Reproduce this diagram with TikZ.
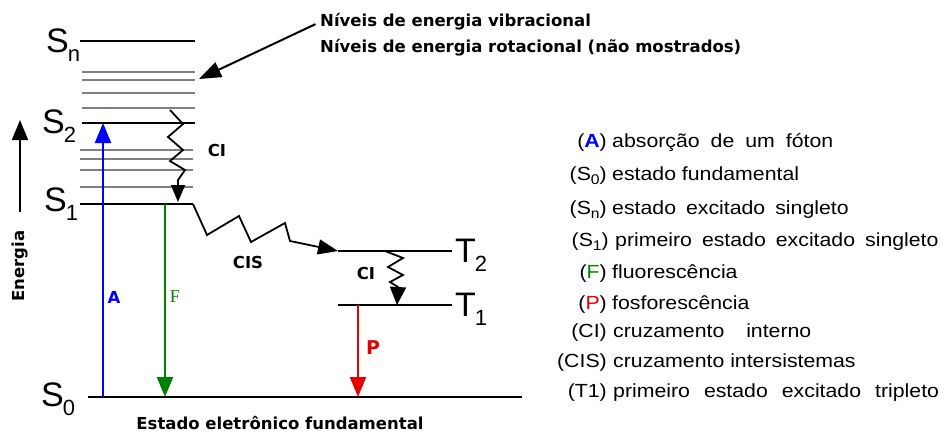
\documentclass[tikz,border=0pt]{standalone}
\usepackage{fontspec}
\setmainfont{Liberation Sans}
\newfontfamily\boldfont{DejaVu Sans}
\newfontfamily\legendfont{Liberation Sans}[FakeStretch=1.12]
\newfontfamily\seriffont{Liberation Serif}
\usepackage{tikz}
\usetikzlibrary{arrows.meta}
\definecolor{levelgray}{RGB}{128,128,128}
\definecolor{absblue}{RGB}{0,0,255}
\definecolor{fluogreen}{RGB}{0,128,0}
\definecolor{phosred}{RGB}{230,0,0}

\newcommand{\statename}[2]{#1\kern-1pt\raisebox{-9pt}{\fontsize{22}{22}\selectfont #2}}
\newcommand{\legsub}[1]{\raisebox{-4pt}{\fontsize{14}{14}\selectfont #1}}

\begin{document}
\begin{tikzpicture}[x=1pt, y=-1pt, >={Triangle[length=20pt,width=16pt]},
    level/.style={line width=2.5pt},
    sublevel/.style={levelgray, line width=2.5pt},
    statelabel/.style={anchor=base west, inner sep=0pt, font=\fontsize{34}{34}\selectfont},
    boldlabel/.style={inner sep=0pt, font=\boldfont\bfseries\fontsize{16.5}{18}\selectfont},
    transition/.style={->, line width=2.3pt},
    relax/.style={-{Triangle[length=17pt,width=14pt]}, line width=1.8pt},
    legkey/.style={anchor=base east, inner sep=0pt, font=\legendfont\fontsize{19}{19}\selectfont},
    legtext/.style={anchor=base west, inner sep=0pt, font=\legendfont\fontsize{19}{19}\selectfont}]
    \useasboundingbox (0,0) rectangle (946,432);

    % Energy axis
    \coordinate (en0) at (20,212);
    \coordinate (en1) at (20,120);
    \draw[->, line width=1.8pt] (en0) -- (en1);
    \node[boldlabel, rotate=90] (energia) at (20,266) {Energia};

    % Singlet levels
    \coordinate (sn-l) at (80,41);  \coordinate (sn-r) at (195,41);
    \coordinate (s2-l) at (82,123); \coordinate (s2-r) at (195,123);
    \coordinate (s1-l) at (80,204); \coordinate (s1-r) at (193,204);
    \coordinate (s0-l) at (88,397); \coordinate (s0-r) at (522,397);
    \draw[level] (sn-l) -- (sn-r);
    \draw[level] (s2-l) -- (s2-r);
    \draw[level] (s1-l) -- (s1-r);
    \draw[level] (s0-l) -- (s0-r);
    \foreach \y in {72,80,93,108}
        \draw[sublevel] (82,\y) -- (195,\y);
    \foreach \y in {150,159,170,187}
        \draw[sublevel] (80,\y) -- (193,\y);

    % Triplet levels
    \coordinate (t2-l) at (338,251); \coordinate (t2-r) at (452,251);
    \coordinate (t1-l) at (338,305); \coordinate (t1-r) at (452,305);
    \draw[level] (t2-l) -- (t2-r);
    \draw[level] (t1-l) -- (t1-r);

    % State names
    \node[statelabel] (lsn) at (46,52)  {\statename{S}{n}};
    \node[statelabel] (ls2) at (42,133) {\statename{S}{2}};
    \node[statelabel] (ls1) at (44,211) {\statename{S}{1}};
    \node[statelabel] (ls0) at (41,406) {\statename{S}{0}};
    \node[statelabel] (lt2) at (455,262) {\statename{T}{2}};
    \node[statelabel] (lt1) at (455,316) {\statename{T}{1}};

    % Radiative transitions
    \coordinate (a0) at (103,397); \coordinate (a1) at (103,123);
    \coordinate (f0) at (165,204); \coordinate (f1) at (165,397);
    \coordinate (p0) at (358,305); \coordinate (p1) at (358,397);
    \draw[transition, absblue] (a0) -- (a1);
    \draw[transition, fluogreen] (f0) -- (f1);
    \draw[transition, phosred] (p0) -- (p1);
    \node[boldlabel, absblue] (la) at (114,297) {A};
    \node[inner sep=0pt, fluogreen, font=\seriffont\fontsize{18}{18}\selectfont] (lf) at (175,297) {F};
    \node[boldlabel, phosred, font=\boldfont\bfseries\fontsize{19}{19}\selectfont] (lp) at (373,348) {P};

    % Non-radiative transitions
    \coordinate (ci1s) at (170,110); \coordinate (ci1e) at (178,202);
    \draw[relax] (ci1s) -- (183,124) -- (168,137) -- (183,150) -- (170,161)
        -- (185,170) -- (178,180) -- (ci1e);
    \node[boldlabel] (lci1) at (217,150) {CI};
    \draw[relax, -{Triangle[length=20pt,width=15pt]}] (s1-r) -- (207,235) -- (239,216) -- (251,242)
        -- (285,223) -- (290,241) -- (t2-l);
    \node[boldlabel] (lcis) at (248,262) {CIS};
    \coordinate (ci2s) at (385,251); \coordinate (ci2e) at (397,305);
    \draw[relax, -{Triangle[length=18pt,width=16pt]}] (ci2s) -- (403,258) -- (388,267) -- (403,275)
        -- (390,282) -- (398,287) -- (ci2e);
    \node[boldlabel] (lci2) at (366,273) {CI};

    % Vibrational / rotational note
    \node[boldlabel, anchor=west] (vib) at (320,22) {Níveis de energia vibracional};
    \node[boldlabel, anchor=west] (rot) at (320,48) {Níveis de energia rotacional (não mostrados)};
    \coordinate (ptrtip) at (199,79);
    \draw[->, line width=2pt, shorten <=5pt, >={Triangle[length=22pt,width=16pt]}] (vib.west) -- (ptrtip);

    \node[boldlabel] (ground) at (280,423) {Estado eletrônico fundamental};

    % Legend
    \node[legkey] (k-a) at (607,147) {(\textcolor{absblue}{\bfseries A})};
    \node[legtext] (d-a) at (612,147) {\spaceskip=11pt absorção de um fóton};
    \node[legkey] (k-s0) at (607,180) {(S\legsub{0})};
    \node[legtext] (d-s0) at (612,180) {estado fundamental};
    \node[legkey] (k-sn) at (607,214) {(S\legsub{n})};
    \node[legtext] (d-sn) at (612,214) {\spaceskip=10pt estado excitado singleto};
    \node[legkey] (k-s1) at (609,246) {(S\legsub{1})};
    \node[legtext] (d-s1) at (615,246) {\spaceskip=10pt primeiro estado excitado singleto};
    \node[legkey] (k-f) at (607,278) {(\textcolor{fluogreen}{F})};
    \node[legtext] (d-f) at (612,278) {fluorescência};
    \node[legkey] (k-p) at (607,309) {(\textcolor{phosred}{P})};
    \node[legtext] (d-p) at (612,309) {fosforescência};
    \node[legkey] (k-ci) at (607,337) {(CI)};
    \node[legtext] (d-ci) at (613,337) {cruzamento\hspace{16pt} interno};
    \node[legkey] (k-cis) at (607,367) {(CIS)};
    \node[legtext] (d-cis) at (613,367) {cruzamento intersistemas};
    \node[legkey] (k-t1) at (607,397) {(T1)};
    \node[legtext] (d-t1) at (613,397) {\spaceskip=14pt primeiro estado excitado tripleto};
\end{tikzpicture}
\end{document}
